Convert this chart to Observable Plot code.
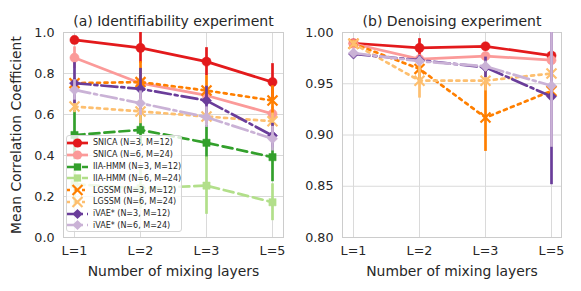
<!DOCTYPE html>
<html><head><meta charset="utf-8">
<script src="https://cdn.jsdelivr.net/npm/d3@7"></script>
<script src="https://cdn.jsdelivr.net/npm/@observablehq/plot@0.6"></script>
<style>
body{margin:0;background:#fff;font-family:"DejaVu Sans",sans-serif;}
#wrap{position:relative;width:581px;height:291px;overflow:hidden;background:#fff}
#left{position:absolute;left:0;top:0}
#right{position:absolute;left:290px;top:0}
#legend{position:absolute;left:66px;top:135px;width:116px;height:97px;box-sizing:border-box;border:1px solid #d5d5d5;border-radius:3px;background:rgba(255,255,255,0.8);padding-top:1px}
.row{height:11.8px;display:flex;align-items:center;font-size:8px;color:#262626;white-space:nowrap}
.row svg{flex:none}
g[aria-label="y-axis label"], g[aria-label="x-axis label"]{font-size:13.9px}
</style></head><body>
<div id="wrap"><div id="left"></div><div id="right"></div><div id="legend"></div></div>
<script>
const layers = ["L=1", "L=2", "L=3", "L=5"];
const seriesNames = ["SNICA (N=3, M=12)", "SNICA (N=6, M=24)", "IIA-HMM (N=3, M=12)", "IIA-HMM (N=6, M=24)",
  "LGSSM (N=3, M=12)", "LGSSM (N=6, M=24)", "iVAE* (N=3, M=12)", "iVAE* (N=6, M=24)"];
const seriesColors = ["#e31a1c", "#fb9a99", "#33a02c", "#b2df8a", "#ff7f00", "#fdbf6f", "#6a3d9a", "#cab2d6"];
const seriesSymbols = ["circle", "circle", "square2", "square2", "times", "times", "diamond2", "diamond2"];
const seriesDashes = ["none", "none", "10,5", "10,5", "3,4.5", "3,4.5", "16,4,3,4", "16,4,3,4"];

// (a) Identifiability experiment: means and error half-widths
const identSnica3 = [0.964, 0.925, 0.858, 0.758];
const identSnica3Err = [0.012, 0.075, 0.068, 0.09];
const identSnica6 = [0.877, 0.753, 0.693, 0.603];
const identSnica6Err = [0.053, 0.02, 0.03, 0.035];
const identIia3 = [0.50, 0.525, 0.462, 0.392];
const identIia3Err = [0.12, 0.07, 0.085, 0.12];
const identIia6 = [0.26, 0.24, 0.253, 0.172];
const identIia6Err = [0.1, 0.1, 0.14, 0.09];
const identLgssm3 = [0.753, 0.758, 0.717, 0.668];
const identLgssm3Err = [0.02, 0.1, 0.073, 0.072];
const identLgssm6 = [0.639, 0.615, 0.590, 0.567];
const identLgssm6Err = [0.03, 0.06, 0.04, 0.04];
const identIvae3 = [0.753, 0.725, 0.668, 0.497];
const identIvae3Err = [0.1, 0.1, 0.07, 0.06];
const identIvae6 = [0.72, 0.655, 0.587, 0.482];
const identIvae6Err = [0.05, 0.06, 0.05, 0.06];

// (b) Denoising experiment (IIA-HMM falls below the axis range)
const denoiseSnica3 = [0.9895, 0.985, 0.9865, 0.9775];
const denoiseSnica3Err = [0.002, 0.009, 0.003, 0.003];
const denoiseSnica6 = [0.989, 0.974, 0.977, 0.973];
const denoiseSnica6Err = [0.003, 0.003, 0.003, 0.003];
const denoiseLgssm3 = [0.989, 0.9645, 0.917, 0.943];
const denoiseLgssm3Err = [0.003, 0.012, 0.033, 0.01];
const denoiseLgssm6 = [0.989, 0.953, 0.953, 0.960];
const denoiseLgssm6Err = [0.003, 0.017, 0.01, 0.008];
const denoiseIvae3 = [0.979, 0.973, 0.966, 0.9375];
const denoiseIvae3Err = [0.003, 0.004, 0.01, 0.086];
const denoiseIvae6 = [0.980, 0.972, 0.967, 0.948];
const denoiseIvae6Err = [0.003, 0.004, 0.005, 0.06];

const identTicks = [0, 0.2, 0.4, 0.6, 0.8, 1.0];
const denoiseTicks = [0.80, 0.85, 0.90, 0.95, 1.00];

const identSeries = [
  [0, identSnica3, identSnica3Err], [1, identSnica6, identSnica6Err],
  [2, identIia3, identIia3Err], [3, identIia6, identIia6Err],
  [4, identLgssm3, identLgssm3Err], [5, identLgssm6, identLgssm6Err],
  [6, identIvae3, identIvae3Err], [7, identIvae6, identIvae6Err]
];
const denoiseSeries = [
  [0, denoiseSnica3, denoiseSnica3Err], [1, denoiseSnica6, denoiseSnica6Err],
  [4, denoiseLgssm3, denoiseLgssm3Err], [5, denoiseLgssm6, denoiseLgssm6Err],
  [6, denoiseIvae3, denoiseIvae3Err], [7, denoiseIvae6, denoiseIvae6Err]
];

const LW = 2.7;
function seriesMarks(list) {
  const marks = [];
  for (const [k, vals, errs] of list) {
    const rows = layers.map((l, i) => ({layer: l, v: vals[i], e: errs[i]}));
    const c = seriesColors[k];
    marks.push(Plot.ruleX(rows, {x: "layer", y1: d => d.v - d.e, y2: d => d.v + d.e, stroke: c, strokeWidth: LW, clip: true}));
    marks.push(Plot.line(rows, {x: "layer", y: "v", stroke: c, strokeWidth: LW, strokeDasharray: seriesDashes[k]}));
    if (seriesSymbols[k] === "times") {
      marks.push(Plot.dot(rows, {x: "layer", y: "v", symbol: "times", r: 4.6, stroke: c, strokeWidth: 2.2, fill: "none"}));
    } else {
      marks.push(Plot.dot(rows, {x: "layer", y: "v", symbol: seriesSymbols[k], r: 4.6, fill: c, stroke: c, strokeWidth: 0.5}));
    }
  }
  return marks;
}

function panel({series, domain, ticks, fmt, width, marginLeft, marginRight, title, ylabel}) {
  return Plot.plot({
    width, height: 291, marginLeft, marginRight, marginTop: 32, marginBottom: 54,
    style: {fontFamily: "DejaVu Sans", fontSize: "12.7px", color: "#262626", background: "transparent"},
    x: {type: "point", domain: layers, padding: 0.15},
    y: {domain},
    marks: [
      Plot.gridY(ticks, {stroke: "#dadada", strokeOpacity: 1, strokeWidth: 1}),
      Plot.gridX(layers, {stroke: "#dadada", strokeOpacity: 1, strokeWidth: 1}),
      Plot.frame({stroke: "#cccccc", strokeWidth: 1}),
      ...seriesMarks(series),
      Plot.axisY(ticks, {tickSize: 0, tickPadding: 9, tickFormat: fmt, label: ylabel, labelAnchor: "center", labelArrow: "none", labelOffset: 52}),
      Plot.axisX(layers, {tickSize: 0, tickPadding: 8, label: "Number of mixing layers", labelAnchor: "center", labelArrow: "none", labelOffset: 38}),
      Plot.text([title], {text: d => d, frameAnchor: "top", dy: -11, fontSize: 14, lineAnchor: "middle", fill: "#262626"})
    ]
  });
}

document.getElementById("left").append(panel({
  series: identSeries, domain: [0, 1], ticks: identTicks, fmt: d3.format(".1f"),
  width: 290, marginLeft: 63, marginRight: 7,
  title: "(a) Identifiability experiment", ylabel: "Mean Correlation Coefficient"
}));
document.getElementById("right").append(panel({
  series: denoiseSeries, domain: [0.8, 1.0], ticks: denoiseTicks, fmt: d3.format(".2f"),
  width: 291, marginLeft: 52, marginRight: 20,
  title: "(b) Denoising experiment", ylabel: null
}));

// legend
const legend = document.getElementById("legend");
const symMap = {circle: d3.symbolCircle, square2: d3.symbolSquare2, times: d3.symbolTimes, diamond2: d3.symbolDiamond2};
seriesNames.forEach((name, k) => {
  const row = document.createElement("div");
  row.className = "row";
  const svg = d3.create("svg").attr("width", 26).attr("height", 12);
  svg.append("line").attr("x1", 0).attr("x2", 21).attr("y1", 6).attr("y2", 6)
    .attr("stroke", seriesColors[k]).attr("stroke-width", LW).attr("stroke-dasharray", seriesDashes[k] === "none" ? null : seriesDashes[k]);
  const p = d3.symbol(symMap[seriesSymbols[k]], Math.PI * 4.6 * 4.6)();
  const path = svg.append("path").attr("d", p).attr("transform", "translate(10.5,6)");
  if (seriesSymbols[k] === "times") path.attr("fill", "none").attr("stroke", seriesColors[k]).attr("stroke-width", 2.2);
  else path.attr("fill", seriesColors[k]);
  row.append(svg.node());
  const span = document.createElement("span");
  span.textContent = name;
  row.append(span);
  legend.append(row);
});
</script>
</body></html>
